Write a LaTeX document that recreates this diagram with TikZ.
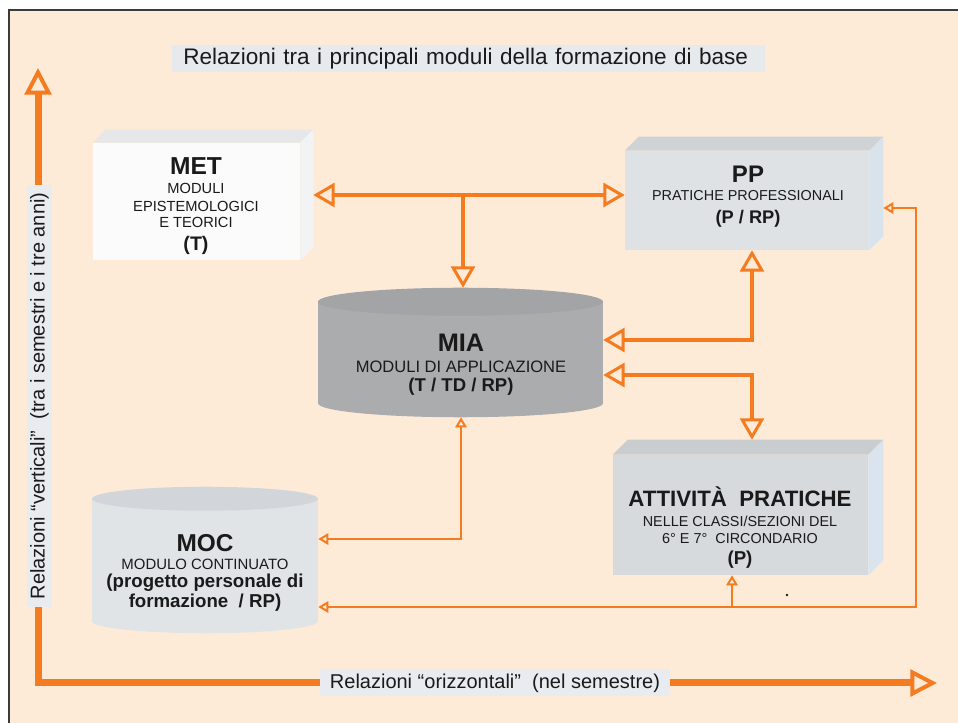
\documentclass[tikz,border=0pt]{standalone}
\usepackage{fontspec}
\setmainfont{Liberation Sans}
\usetikzlibrary{arrows.meta,calc,fit}
\definecolor{bgc}{HTML}{FDEBD8}
\definecolor{org}{HTML}{F47B20}
\definecolor{titlebg}{HTML}{E7EAED}
\definecolor{lblbg}{HTML}{E8ECF0}
\definecolor{framec}{HTML}{3A3A3A}
\definecolor{txtc}{HTML}{1A1A1A}
\definecolor{metfront}{HTML}{FBFBFB}
\definecolor{mettop}{HTML}{E6E7E8}
\definecolor{metright}{HTML}{F2F3F4}
\definecolor{ppfront}{HTML}{DEE2E5}
\definecolor{pptop}{HTML}{CFD3D6}
\definecolor{ppright}{HTML}{D9E3EC}
\definecolor{attfront}{HTML}{D6DADD}
\definecolor{atttop}{HTML}{C9CDD0}
\definecolor{attright}{HTML}{D9E4EE}
\definecolor{miabody}{HTML}{ABACAD}
\definecolor{miatop}{HTML}{A2A4A6}
\definecolor{mocbody}{HTML}{E1E4E7}
\definecolor{moctop}{HTML}{D2D6DA}
\newcommand\boxthreed[5]{%
  \fill[#3] ($(#1.north west)+(0,#2)$) rectangle ($(#1.south east)+(-#2,0)$);
  \fill[#4] ($(#1.north west)+(0,#2)$) -- ($(#1.north west)+(#2,0)$) -- (#1.north east) -- ($(#1.north east)+(-#2,#2)$) -- cycle;
  \fill[#5] ($(#1.north east)+(-#2,#2)$) -- (#1.north east) -- ($(#1.south east)+(0,-#2)$) -- ($(#1.south east)+(-#2,0)$) -- cycle;}
\tikzset{
  medtip/.tip={Triangle[fill=bgc,length=16pt,width=18pt,line width=2.25pt]},
  smalltip/.tip={Triangle[fill=bgc,length=7.5pt,width=8.5pt,line width=1.5pt]},
  bigtip/.tip={Triangle[fill=bgc,length=20pt,width=20pt,line width=3pt]},
}
\begin{document}
\begin{tikzpicture}[x=0.75pt,y=-0.75pt,line join=miter,
  box/.style={inner sep=0pt,draw=none},
  txt/.style={align=center,inner sep=0pt,text=txtc,font=\fontsize{11}{12.75}\selectfont},
  conn/.style={draw=org,line width=2.5pt},
  small/.style={draw=org,line width=1.5pt},
  axis/.style={draw=org,line width=5.25pt},
  lbl/.style={fill=lblbg,inner sep=0pt,text=txtc,font=\fontsize{15}{18}\selectfont}]
\useasboundingbox (0,0) rectangle (958,723);
% background and frame
\fill[white] (0,0) rectangle (958,723);
\fill[bgc] (8,10) rectangle (958,723);
\draw[framec,line width=1.2pt] (9,723) -- (9,10) -- (958,10);
% title
\node[fill=titlebg,anchor=west,inner xsep=8.25pt,inner ysep=0pt,minimum height=20.25pt,
      text width=428.25pt,align=left,text=txtc,font=\fontsize{16.9}{20}\selectfont]
      (title) at (172,58.5) {Relazioni tra i principali moduli della formazione di base};
% box frames
\node[box,fit={(93,130) (313,260)}] (met) {};
\node[box,fit={(625,137) (883,250)}] (pp) {};
\node[box,fit={(613,440) (883,575)}] (att) {};
\node[box,fit={(318,288) (603,417)}] (mia) {};
\node[box,fit={(92,487) (318,633)}] (moc) {};
% 3D boxes
\boxthreed{met}{13}{metfront}{mettop}{metright}
\boxthreed{pp}{14}{ppfront}{pptop}{ppright}
\boxthreed{att}{15}{attfront}{atttop}{attright}
% cylinders
\fill[miabody] ($(mia.north west)+(0,14)$) rectangle ($(mia.south east)+(0,-14)$);
\fill[miabody] ($(mia.south)+(0,-14)$) ellipse[x radius=106.875pt,y radius=10.5pt];
\fill[miatop] ($(mia.north)+(0,14)$) ellipse[x radius=106.875pt,y radius=10.5pt];
\fill[mocbody] ($(moc.north west)+(0,12)$) rectangle ($(moc.south east)+(0,-12)$);
\fill[mocbody] ($(moc.south)+(0,-12)$) ellipse[x radius=84.75pt,y radius=9pt];
\fill[moctop] ($(moc.north)+(0,12)$) ellipse[x radius=84.75pt,y radius=9pt];
% texts
\node[txt] (mettxt) at (196,206.5) {{\bfseries\fontsize{18.4}{20}\selectfont MET}\\[1.5pt]
  MODULI\\[0.75pt] EPISTEMOLOGICI\\[-0.75pt] E TEORICI\\[4.5pt]
  {\bfseries\fontsize{14.7}{16}\selectfont (T)}};
\node[txt] (pptxt) at (748,197) {{\bfseries\fontsize{18}{20}\selectfont PP}\\[0.75pt]
  {\fontsize{10.8}{13}\selectfont PRATICHE PROFESSIONALI}\\[4.5pt]
  {\bfseries\fontsize{13.7}{16}\selectfont (P / RP)}};
\node[txt] (miatxt) at (461,365) {{\bfseries\fontsize{19}{20}\selectfont MIA}\\[3pt]
  {\fontsize{12.4}{14}\selectfont MODULI DI APPLICAZIONE}\\[1.5pt]
  {\bfseries\fontsize{13.9}{16}\selectfont (T / TD / RP)}};
\node[txt] (moctxt) at (205,573) {{\bfseries\fontsize{18.3}{20}\selectfont MOC}\\[0.75pt]
  {\fontsize{11.2}{13}\selectfont MODULO CONTINUATO}\\[0.75pt]
  {\bfseries\fontsize{14}{16}\selectfont (progetto personale di}\\[1.5pt]
  {\bfseries\fontsize{14}{16}\selectfont formazione~~/ RP)}};
\node[txt] (atttxt) at (740,527.5) {{\bfseries\fontsize{16.7}{20}\selectfont ATTIVITÀ~~PRATICHE}\\[2.25pt]
  {\fontsize{10.8}{13}\selectfont NELLE CLASSI/SEZIONI DEL}\\[0pt]
  {\fontsize{10.8}{13}\selectfont 6° E 7°~~CIRCONDARIO}\\[3pt]
  {\bfseries\fontsize{14}{16}\selectfont (P)}};
% connectors
\coordinate (j1) at (463,195);
\coordinate (c1) at (752,340);
\coordinate (c2) at (752,375);
\coordinate (c3) at (461,539);
\coordinate (c4) at (916,607);
\coordinate (c5) at (916,208);
\coordinate (c6) at (732,607);
\draw[conn,{medtip}-{medtip}] (met.east) -- (met.east -| pp.west);
\draw[conn,-{medtip}] (j1) -- (j1 |- mia.north);
\draw[conn,{medtip}-{medtip}] (c1 -| mia.east) -- (c1) -- (c1 |- pp.south);
\draw[conn,{medtip}-{medtip}] (c2 -| mia.east) -- (c2) -- (c2 |- att.north);
\draw[small,{smalltip}-{smalltip}] (c3 |- mia.south) -- (c3) -- (c3 -| moc.east);
\draw[small,{smalltip}-{smalltip}] (c4 -| moc.east) -- (c4) -- (c5) -- (c5 -| pp.east);
\draw[small,-{smalltip}] (c6) -- (c6 |- att.south);
% axes
\coordinate (vtip) at (38,68);
\coordinate (corner) at (38,683);
\coordinate (htip) at (937,683);
\draw[axis,{bigtip}-{bigtip}] (vtip) -- (corner) -- (htip);
\node[lbl,rotate=90,minimum width=316.5pt,minimum height=18.75pt] (vlab) at (39.5,396)
  {Relazioni “verticali”~~(tra i semestri e i tre anni)};
\node[lbl,minimum width=262.5pt,minimum height=20.25pt] (hlab) at (495,683)
  {Relazioni “orizzontali”~~(nel semestre)};
% stray dot
\fill[txtc] (787,595) circle[radius=1.1pt];
\end{tikzpicture}
\end{document}
